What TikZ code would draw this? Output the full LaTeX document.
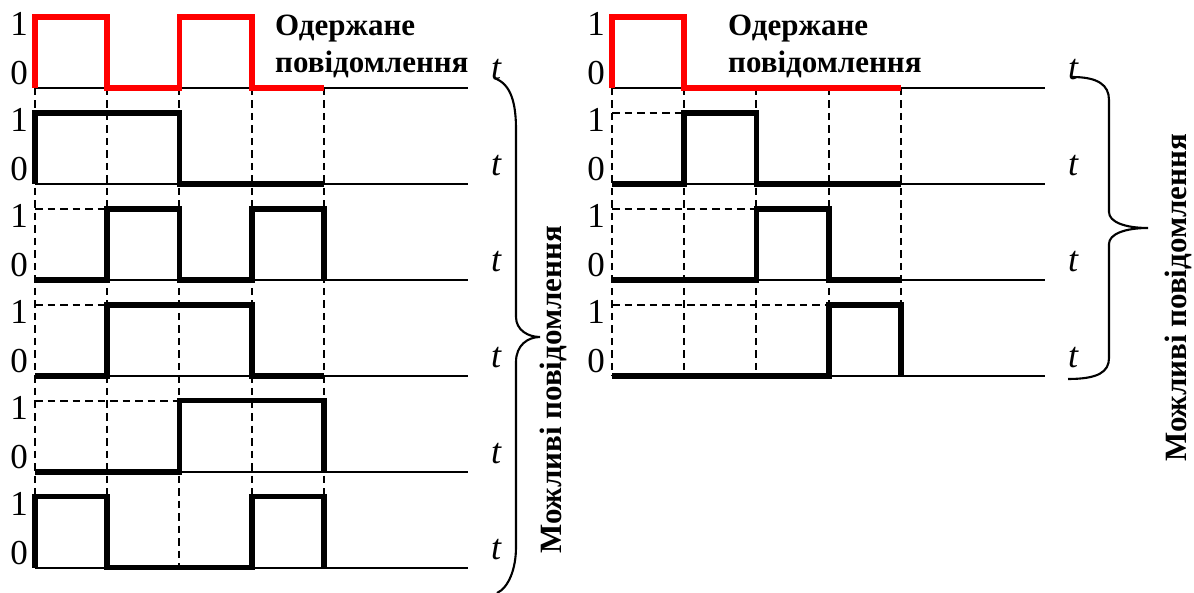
\documentclass[tikz,border=0pt]{standalone}
\usepackage{fontspec}
\setmainfont{Liberation Serif}
\begin{document}
\begin{tikzpicture}[x=1pt,y=-1pt,
  axisline/.style={line width=2pt},
  gridline/.style={line width=2pt, dash pattern=on 7.5pt off 5pt},
  sigline/.style={line width=5.8pt, line join=miter},
  redsig/.style={sigline, red},
  bracket/.style={line width=2.1pt},
  lvl/.style={font=\fontsize{35}{35}\selectfont, inner sep=0pt, anchor=base},
  tlab/.style={font=\fontsize{36}{36}\selectfont\itshape, inner sep=0pt, anchor=base},
  caption/.style={font=\fontsize{31}{31}\selectfont\bfseries, inner sep=0pt, anchor=base west},
  sidecap/.style={font=\fontsize{31}{31}\selectfont\bfseries, inner sep=0pt, rotate=90}]
\useasboundingbox (0,0) rectangle (1194,593);

% slot width, level height, row spacing
\def\slot{72.2}
\def\amp{71}
\def\rowgap{95.9}

% waveform: style, start x, baseline, list of bits
\newcommand\drawwave[4]{%
  \draw[#1] (#2,#3) \foreach \bb [count=\ii from 0] in {#4} {
     -- ({#2+\slot*\ii},{#3-\amp*\bb}) -- ({#2+\slot*(\ii+1)},{#3-\amp*\bb}) }
     -- ({#2+4*\slot},#3);}

% ---------------- left panel ----------------
\foreach \i in {0,...,4}
  \draw[gridline] ({35+\slot*\i},88) -- ({35+\slot*\i},{88+5*\rowgap});
\foreach \k in {0,...,5}
  \draw[axisline] (35,{88+\rowgap*\k}) -- (468,{88+\rowgap*\k});
\draw[gridline] (35,{88+2*\rowgap-\amp}) -- ({35+\slot},{88+2*\rowgap-\amp});
\draw[gridline] (35,{88+3*\rowgap-\amp}) -- ({35+\slot},{88+3*\rowgap-\amp});
\draw[gridline] (35,{88+4*\rowgap-\amp}) -- ({35+2*\slot},{88+4*\rowgap-\amp});

\drawwave{redsig}{35}{88}{1,0,1,0}
\drawwave{sigline}{35}{88+\rowgap}{1,1,0,0}
\drawwave{sigline}{35}{88+2*\rowgap}{0,1,0,1}
\drawwave{sigline}{35}{88+3*\rowgap}{0,1,1,0}
\drawwave{sigline}{35}{88+4*\rowgap}{0,0,1,1}
\drawwave{sigline}{35}{88+5*\rowgap}{1,0,0,1}

\foreach \k in {0,...,5} {
  \node[lvl] (lone\k)  at (19,{88+\rowgap*\k-52}) {1};
  \node[lvl] (lzero\k) at (19,{88+\rowgap*\k-3}) {0};
  \node[tlab] (lt\k) at (496,{88+\rowgap*\k-8}) {t};
}
\node[caption] (lcap1) at (275,36) {Одержане};
\node[caption] (lcap2) at (275,73) {повідомлення};

\coordinate (lbtop) at (494,78);
\coordinate (lbtip) at (540,337);
\coordinate (lbbot) at (497,593);
\draw[bracket] (lbtop) .. controls (512,84) and (516,105) .. (516,130)
  -- (516,317) .. controls (516,330) and (528,337) .. (lbtip)
  .. controls (528,337) and (516,345) .. (516,362)
  -- (516,547) .. controls (516,570) and (508,588) .. (lbbot);
\node[sidecap] (lside) at (553,390) {Можливі повідомлення};

% ---------------- right panel ----------------
\foreach \i in {0,...,4}
  \draw[gridline] ({612+\slot*\i},88) -- ({612+\slot*\i},{88+3*\rowgap});
\foreach \k in {0,...,3}
  \draw[axisline] (612,{88+\rowgap*\k}) -- (1045,{88+\rowgap*\k});
\draw[gridline] (612,{88+\rowgap-\amp}) -- ({612+\slot},{88+\rowgap-\amp});
\draw[gridline] (612,{88+2*\rowgap-\amp}) -- ({612+2*\slot},{88+2*\rowgap-\amp});
\draw[gridline] (612,{88+3*\rowgap-\amp}) -- ({612+3*\slot},{88+3*\rowgap-\amp});

\drawwave{redsig}{612}{88}{1,0,0,0}
\drawwave{sigline}{612}{88+\rowgap}{0,1,0,0}
\drawwave{sigline}{612}{88+2*\rowgap}{0,0,1,0}
\drawwave{sigline}{612}{88+3*\rowgap}{0,0,0,1}

\foreach \k in {0,...,3} {
  \node[lvl] (rone\k)  at (596,{88+\rowgap*\k-52}) {1};
  \node[lvl] (rzero\k) at (596,{88+\rowgap*\k-3}) {0};
  \node[tlab] (rt\k) at (1073,{88+\rowgap*\k-8}) {t};
}
\node[caption] (rcap1) at (728,36) {Одержане};
\node[caption] (rcap2) at (728,73) {повідомлення};

\coordinate (rbtop) at (1072,77);
\coordinate (rbtip) at (1148,228);
\coordinate (rbbot) at (1068,379);
\draw[bracket] (rbtop) .. controls (1098,77) and (1109,85) .. (1109,100)
  -- (1109,212) .. controls (1109,222) and (1125,228) .. (rbtip)
  .. controls (1125,228) and (1109,234) .. (1109,244)
  -- (1109,358) .. controls (1109,372) and (1098,379) .. (rbbot);
\node[sidecap] (rside) at (1178,298) {Можливі повідомлення};
\end{tikzpicture}
\end{document}
